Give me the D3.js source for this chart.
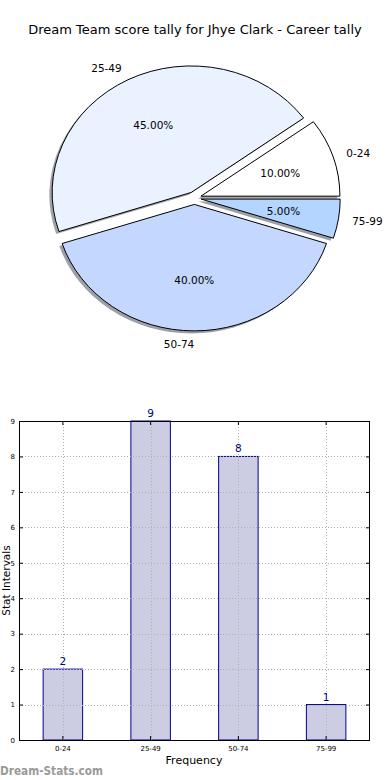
<!DOCTYPE html>
<html>
<head>
<meta charset="utf-8">
<script src="https://cdn.jsdelivr.net/npm/d3@7"></script>
<style>
  html, body { margin: 0; padding: 0; background: #fff; }
  svg { display: block; font-family: "DejaVu Sans", sans-serif; }
</style>
</head>
<body>
<svg id="chart" width="390" height="780"></svg>
<script>
const categories = ["0-24", "25-49", "50-74", "75-99"];
const counts = [2, 9, 8, 1];
const sliceColors = ["#ffffff", "#eaf1ff", "#c4d8ff", "#b3d5ff"];
const yTicks = [0, 1, 2, 3, 4, 5, 6, 7, 8, 9];
const title = "Dream Team score tally for Jhye Clark - Career tally";

(function () {
const svg = d3.select("#chart");

// Title
svg.append("text").attr("x", 195).attr("y", 34).attr("text-anchor", "middle")
  .attr("font-size", 13).attr("fill", "#000").text(title);

// ---------- PIE (elliptical, matplotlib-style) ----------
const cx = 194.3, cy = 198.1, rx = 139, ry = 126.5, explode = 0.05;
const total = d3.sum(counts);
const pie = d3.pie().sort(null).startAngle(Math.PI / 2).endAngle(Math.PI / 2 - 2 * Math.PI);
const arcs = pie(counts);
const arc = d3.arc().innerRadius(0).outerRadius(1);

function centerOf(a) {
  const m = (a.startAngle + a.endAngle) / 2;
  return { m, x: cx + explode * rx * Math.sin(m), y: cy - explode * ry * Math.cos(m) };
}

const pieG = svg.append("g");
// shadows
arcs.forEach((a, i) => {
  const c = centerOf(a);
  const col = d3.rgb(sliceColors[i]);
  pieG.append("path")
    .attr("d", arc(a))
    .attr("transform", `translate(${c.x - 0.02 * rx},${c.y + 0.02 * ry}) scale(${rx},${ry})`)
    .attr("fill", d3.rgb(col.r * 0.3, col.g * 0.3, col.b * 0.3))
    .attr("fill-opacity", 0.5)
    .attr("stroke", "none");
});
// wedges
arcs.forEach((a, i) => {
  const c = centerOf(a);
  pieG.append("path")
    .attr("d", arc(a))
    .attr("transform", `translate(${c.x},${c.y}) scale(${rx},${ry})`)
    .attr("fill", sliceColors[i])
    .attr("stroke", "#000")
    .attr("stroke-width", 1)
    .attr("vector-effect", "non-scaling-stroke")
    .attr("stroke-linejoin", "round");
});
// labels
arcs.forEach((a, i) => {
  const c = centerOf(a);
  const sx = Math.sin(c.m), sy = -Math.cos(c.m);
  pieG.append("text")
    .attr("x", c.x + 1.1 * rx * sx)
    .attr("y", c.y + 1.1 * ry * sy)
    .attr("text-anchor", sx > 0 ? "start" : "end")
    .attr("dominant-baseline", "central")
    .attr("font-size", 10.5).attr("fill", "#000")
    .text(categories[i]);
  pieG.append("text")
    .attr("x", c.x + 0.6 * rx * sx)
    .attr("y", c.y + 0.6 * ry * sy)
    .attr("text-anchor", "middle")
    .attr("dominant-baseline", "central")
    .attr("font-size", 10.5).attr("fill", "#000")
    .text((counts[i] / total * 100).toFixed(2) + "%");
});

// ---------- BAR CHART ----------
const pLeft = 19, pRight = 370, pTop = 421, pBottom = 740;
const x = d3.scaleBand().domain(categories).range([pLeft, pRight]).padding(0);
const y = d3.scaleLinear().domain([0, 9]).range([pBottom, pTop]);
const barW = x.bandwidth() * 0.45;
const xc = c => x(c) + x.bandwidth() / 2;

const g = svg.append("g");

// bars
g.selectAll("rect.bar").data(categories).enter().append("rect")
  .attr("x", c => xc(c) - barW / 2)
  .attr("y", (c, i) => y(counts[i]))
  .attr("width", barW)
  .attr("height", (c, i) => pBottom - y(counts[i]))
  .attr("fill", "#ccccE3")
  .attr("stroke", "#00008b")
  .attr("stroke-width", 1);

// grid (drawn over bars, like matplotlib)
const grid = g.append("g").attr("stroke", "#b0b0b0").attr("stroke-width", 1)
  .attr("stroke-dasharray", "1,2");
yTicks.forEach(t => {
  grid.append("line").attr("x1", pLeft).attr("x2", pRight)
    .attr("y1", Math.round(y(t)) + 0.5).attr("y2", Math.round(y(t)) + 0.5);
});
categories.forEach(c => {
  grid.append("line").attr("x1", Math.round(xc(c)) + 0.5).attr("x2", Math.round(xc(c)) + 0.5)
    .attr("y1", pTop).attr("y2", pBottom);
});

// value labels
g.selectAll("text.val").data(categories).enter().append("text")
  .attr("x", c => xc(c))
  .attr("y", (c, i) => y(counts[i]) - 4)
  .attr("text-anchor", "middle")
  .attr("font-size", 10.5).attr("fill", "#00008b")
  .text((c, i) => counts[i]);

// axes
const yAxisL = d3.axisLeft(y).tickValues(yTicks).tickSize(-4).tickPadding(4);
g.append("g").attr("transform", `translate(${pLeft},0)`).call(yAxisL)
  .call(s => s.select(".domain").remove())
  .call(s => s.selectAll("text").attr("font-size", 7).attr("font-family", "DejaVu Sans").attr("fill", "#000"));
const yAxisR = d3.axisRight(y).tickValues(yTicks).tickSize(-4).tickFormat("");
g.append("g").attr("transform", `translate(${pRight},0)`).call(yAxisR)
  .call(s => s.select(".domain").remove());
const xAxisB = d3.axisBottom(x).tickSize(-4).tickPadding(6);
g.append("g").attr("transform", `translate(0,${pBottom})`).call(xAxisB)
  .call(s => s.select(".domain").remove())
  .call(s => s.selectAll("text").attr("font-size", 7).attr("font-family", "DejaVu Sans").attr("fill", "#000"));
const xAxisT = d3.axisTop(x).tickSize(-4).tickFormat("");
g.append("g").attr("transform", `translate(0,${pTop})`).call(xAxisT)
  .call(s => s.select(".domain").remove());

// frame
g.append("rect").attr("x", pLeft + 0.5).attr("y", pTop + 0.5)
  .attr("width", pRight - pLeft - 1).attr("height", pBottom - pTop)
  .attr("fill", "none").attr("stroke", "#000").attr("stroke-width", 1);

// axis labels
svg.append("text").attr("transform", "translate(9.5,580.5) rotate(-90)")
  .attr("text-anchor", "middle").attr("font-size", 10.5).attr("fill", "#000").text("Stat Intervals");
svg.append("text").attr("x", 194).attr("y", 764).attr("text-anchor", "middle")
  .attr("font-size", 11).attr("fill", "#000").text("Frequency");

// watermark
svg.append("text").attr("x", 0).attr("y", 775).attr("font-size", 12).attr("font-weight", "bold")
  .attr("textLength", 103).attr("lengthAdjust", "spacingAndGlyphs")
  .attr("fill", "#9a9a9a").text("Dream-Stats.com");
})();
</script>
</body>
</html>
